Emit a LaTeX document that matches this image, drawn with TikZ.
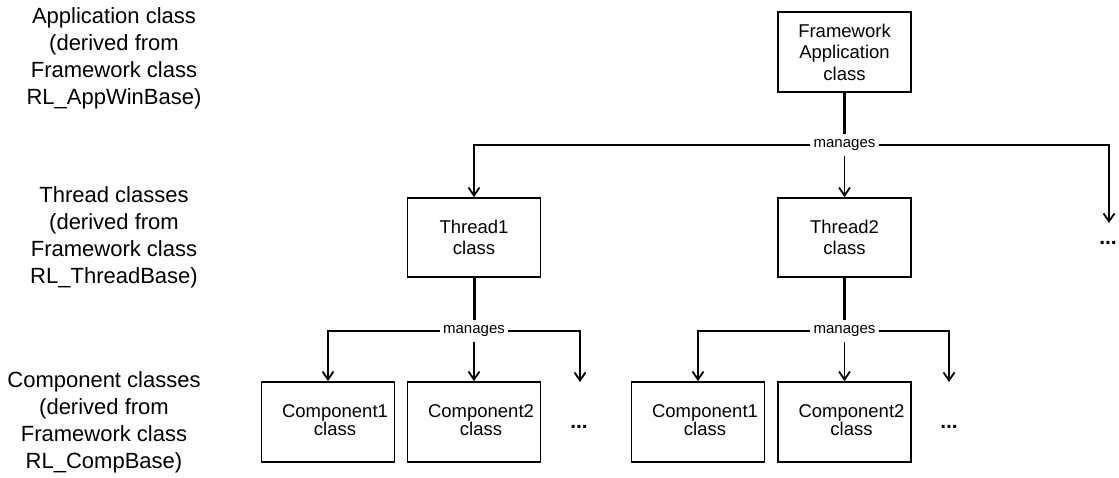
\documentclass[tikz,border=0pt]{standalone}
\usepackage{fontspec}
\setmainfont{Liberation Sans}
\usetikzlibrary{arrows.meta}
\begin{document}
\begin{tikzpicture}[x=1pt,y=-1pt,
  box/.style={draw,line width=1.8pt,minimum width=133pt,minimum height=80pt,
    inner sep=0pt,align=center,font=\fontsize{18.5}{21.5}\selectfont},
  boxtext/.style={inner sep=0pt,align=center,font=\fontsize{18.5}{18.5}\selectfont},
  side/.style={align=center,inner sep=0pt,font=\fontsize{22}{27}\selectfont},
  rel/.style={fill=white,inner xsep=3pt,inner ysep=5pt,font=\fontsize{15}{16}\selectfont},
  trunk/.style={line width=3pt},
  arr/.style={line width=1.8pt,-{Straight Barb[length=8pt,width=11pt,line width=1.8pt]}},
  more/.style={inner sep=0pt,font=\bfseries\fontsize{21}{22}\selectfont}]
\useasboundingbox (0,0) rectangle (1119,477);

% level captions
\node[side] (capapp)  at (114,58.5) {Application class\\(derived from\\Framework class\\RL\_AppWinBase)};
\node[side] (capthr)  at (114,237)  {Thread classes\\(derived from\\Framework class\\RL\_ThreadBase)};
\node[side] (capcomp) at (104,422)  {Component classes\\(derived from\\Framework class\\RL\_CompBase)};

% class boxes
\node[box] (app) at (844.5,52)    {Framework\\Application\\class};
\node[box, minimum height=79pt] (t1) at (474,237.5)   {Thread1\\class};
\node[box, minimum height=79pt] (t2) at (844.5,237.5) {Thread2\\class};

\node[box] (c11) at (328,422)   {};
\node[box] (c12) at (474,422)   {};
\node[box] (c21) at (698,422)   {};
\node[box] (c22) at (844.5,422) {};
\node[boxtext] (c11t) at ([xshift=7pt,yshift=2pt]c11.center) {Component1\\class};
\node[boxtext] (c12t) at ([xshift=7pt,yshift=2pt]c12.center) {Component2\\class};
\node[boxtext] (c21t) at ([xshift=7pt,yshift=2pt]c21.center) {Component1\\class};
\node[boxtext] (c22t) at ([xshift=7pt,yshift=2pt]c22.center) {Component2\\class};

% continuation marks
\node[more] (d0) at (1108,243) {...};
\node[more] (d1) at (579,427)  {...};
\node[more] (d2) at (949,427)  {...};

% application manages threads
\node[rel] (m0) at (844.5,145) {manages};
\coordinate (e0) at (1109,223);
\draw[trunk] (app.south) -- (m0.north);
\draw[arr] (m0.west) -| (t1.north);
\draw[arr] (m0.south) -- (t2.north);
\draw[arr] (m0.east) -| (e0);

% thread 1 manages components
\node[rel] (m1) at (474,331) {manages};
\coordinate (e1) at (580,382);
\draw[trunk] (t1.south) -- (m1.north);
\draw[arr] (m1.west) -| (c11.north);
\draw[arr] (m1.south) -- (c12.north);
\draw[arr] (m1.east) -| (e1);

% thread 2 manages components
\node[rel] (m2) at (844.5,331) {manages};
\coordinate (e2) at (949,382);
\draw[trunk] (t2.south) -- (m2.north);
\draw[arr] (m2.west) -| (c21.north);
\draw[arr] (m2.south) -- (c22.north);
\draw[arr] (m2.east) -| (e2);
\end{tikzpicture}
\end{document}
